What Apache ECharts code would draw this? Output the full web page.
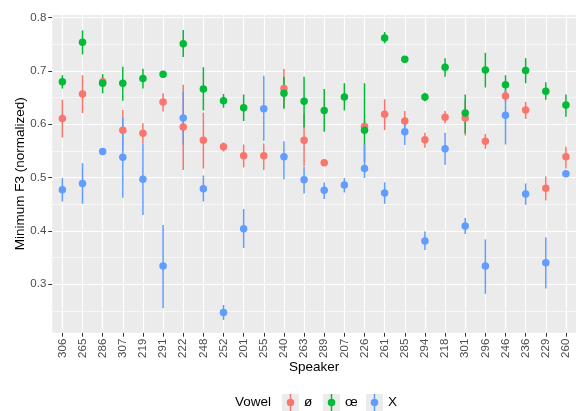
<!DOCTYPE html>
<html>
<head>
<meta charset="utf-8">
<script src="https://cdn.jsdelivr.net/npm/echarts@6/dist/echarts.min.js"></script>
<style>html,body{margin:0;padding:0;background:#fff}#chart{width:576px;height:411px}</style>
</head>
<body>
<div id="chart"></div>
<script>
const categories = ['306','265','286','307','219','291','222','248','252','201','255','240','263','289','207','226','261','285','294','218','301','296','246','236','229','260'];

const vowels = ['ø','œ','X'];

// ø
const oeMeanRed = [0.611,0.657,0.680,0.589,0.583,0.642,0.595,0.570,0.558,0.541,0.541,0.667,0.570,0.528,null,0.596,0.619,0.606,0.571,0.613,0.612,0.568,0.653,0.627,0.480,0.539];
const oeLoRed   = [0.575,0.621,0.672,0.551,0.564,0.624,0.514,0.517,0.549,0.519,0.514,0.630,0.521,0.523,null,0.585,0.589,0.589,0.556,0.602,0.579,0.554,0.642,0.610,0.457,0.517];
const oeHiRed   = [0.646,0.692,0.688,0.627,0.602,0.658,0.674,0.622,0.566,0.562,0.564,0.704,0.619,0.533,null,0.607,0.647,0.625,0.584,0.625,0.645,0.582,0.664,0.642,0.502,0.558];

// œ
const meanGreen = [0.680,0.754,0.677,0.677,0.686,0.694,0.751,0.666,0.644,0.631,null,0.658,0.643,0.626,0.651,0.589,0.762,0.722,0.651,0.707,0.621,0.702,0.674,0.701,0.662,0.636];
const loGreen   = [0.667,0.731,0.658,0.644,0.667,0.690,0.726,0.626,0.631,0.606,null,0.629,0.594,0.586,0.626,0.530,0.752,0.718,0.643,0.689,0.583,0.669,0.655,0.677,0.646,0.614];
const hiGreen   = [0.692,0.776,0.694,0.708,0.704,0.698,0.777,0.707,0.657,0.656,null,0.689,0.689,0.666,0.677,0.677,0.773,0.727,0.659,0.724,0.656,0.734,0.692,0.724,0.679,0.656];

// X
const meanBlue = [0.477,0.489,0.549,0.538,0.497,0.334,0.612,0.479,0.247,0.404,0.629,0.539,0.496,0.476,0.486,0.517,0.471,0.586,0.381,0.554,0.409,0.334,0.617,0.469,0.340,0.507];
const loBlue   = [0.455,0.451,0.545,0.462,0.430,0.255,0.562,0.455,0.233,0.368,0.569,0.497,0.470,0.460,0.472,0.499,0.451,0.561,0.364,0.524,0.394,0.282,0.562,0.449,0.292,0.502];
const hiBlue   = [0.499,0.527,0.554,0.613,0.564,0.411,0.661,0.504,0.261,0.441,0.691,0.568,0.520,0.491,0.499,0.562,0.491,0.602,0.399,0.584,0.424,0.384,0.664,0.489,0.388,0.512];

const majorY = [0.3,0.4,0.5,0.6,0.7,0.8];
const minorY = [0.25,0.35,0.45,0.55,0.65,0.75];

const colors = ['#F8766D','#00BA38','#619CFF'];
const FONT = "'Liberation Sans', Arial, sans-serif";

const groups = [
  {mean: oeMeanRed, lo: oeLoRed, hi: oeHiRed},
  {mean: meanGreen, lo: loGreen, hi: hiGreen},
  {mean: meanBlue, lo: loBlue, hi: hiBlue}
];

function rangeData(g){
  const out=[];
  g.mean.forEach((m,i)=>{ if(m!==null) out.push([i,g.lo[i],g.hi[i]]); });
  return out;
}
function pointData(g){
  const out=[];
  g.mean.forEach((m,i)=>{ if(m!==null) out.push([i,m]); });
  return out;
}

function renderRange(params, api){
  const x = api.value(0);
  const p1 = api.coord([x, api.value(1)]);
  const p2 = api.coord([x, api.value(2)]);
  return {type:'line', shape:{x1:p1[0],y1:p1[1],x2:p2[0],y2:p2[1]},
          style:{stroke: api.visual('color'), lineWidth:1.5}};
}

const gridLines = [];
minorY.forEach(v=>gridLines.push({yAxis:v, lineStyle:{color:'#fff', width:0.6, type:'solid'}}));
majorY.forEach(v=>gridLines.push({yAxis:v, lineStyle:{color:'#fff', width:1.2, type:'solid'}}));
categories.forEach(c=>gridLines.push({xAxis:c, lineStyle:{color:'#fff', width:1.2, type:'solid'}}));

const series = [{
  type:'scatter', data:[], z:1, silent:true,
  markLine:{silent:true, z:1, zlevel:0, symbol:['none','none'], label:{show:false}, animation:false, data:gridLines}
}];
groups.forEach((g,k)=>{
  series.push({type:'custom', name:vowels[k], renderItem:renderRange, data:rangeData(g),
    encode:{x:0,y:[1,2]}, itemStyle:{color:colors[k]}, z:6, silent:true});
});
groups.forEach((g,k)=>{
  series.push({type:'scatter', name:vowels[k], data:pointData(g), symbol:'circle', symbolSize:7.5,
    itemStyle:{color:colors[k], opacity:1}, z:7, silent:true});
});

const keyIcon = 'path://M0,0 H0.02 V0.02 H0 Z M16.98,16.98 H17 V17 H16.98 Z M7.75,0 H9.25 V17 H7.75 Z M8.5,4.75 A3.75,3.75 0 1,1 8.5,12.25 A3.75,3.75 0 1,1 8.5,4.75 Z';
const keyX = [282, 323, 366];
const keyTop = 394;

const legends = vowels.map((v,k)=>({
  data:[v], left:keyX[k], top:keyTop, itemWidth:17, itemHeight:17, icon:keyIcon,
  itemGap:5, padding:0, selectedMode:false, z:10,
  textStyle:{fontSize:13.5, color:'#000', fontFamily:FONT, padding:[0,0,0,0]}
}));

const graphics = [{type:'text', left:235, top:keyTop+1, z:10,
  style:{text:'Vowel', font:"13.5px 'Liberation Sans', Arial, sans-serif", fill:'#000'}}];
keyX.forEach(x=>graphics.push({type:'rect', x:x, y:keyTop, z:2,
  shape:{x:0, y:0, width:17, height:17}, style:{fill:'#EBEBEB'}}));

const chart = echarts.init(document.getElementById('chart'), null, {renderer:'canvas'});
chart.setOption({
  animation:false,
  textStyle:{fontFamily:FONT},
  grid:{left:52.3, right:-10.2, top:15, bottom:78.3, show:true, backgroundColor:'#EBEBEB', borderWidth:0, containLabel:false},
  xAxis:{
    type:'category', data:categories, boundaryGap:true,
    axisLine:{show:false},
    axisTick:{show:true, alignWithLabel:true, length:4, lineStyle:{color:'#333333', width:1}},
    axisLabel:{rotate:90, interval:0, fontSize:11.5, color:'#4D4D4D', margin:6, fontFamily:FONT},
    splitLine:{show:false},
    name:'Speaker', nameLocation:'middle', nameGap:28, nameMoveOverlap:false,
    nameTextStyle:{fontSize:13.5, color:'#000', fontFamily:FONT}
  },
  yAxis:{
    type:'value', min:0.209, max:0.805,
    axisLine:{show:false},
    axisTick:{show:true, length:4, customValues:majorY, lineStyle:{color:'#333333', width:1}},
    axisLabel:{customValues:majorY, formatter:v=>Number(v).toFixed(1), fontSize:11.5, color:'#4D4D4D', margin:6, fontFamily:FONT},
    splitLine:{show:false},
    name:'Minimum F3 (normalized)', nameLocation:'middle', nameGap:25, nameRotate:90, nameMoveOverlap:false,
    nameTextStyle:{fontSize:13.5, color:'#000', fontFamily:FONT}
  },
  legend:legends,
  graphic:graphics,
  series:series
});
</script>
</body>
</html>
